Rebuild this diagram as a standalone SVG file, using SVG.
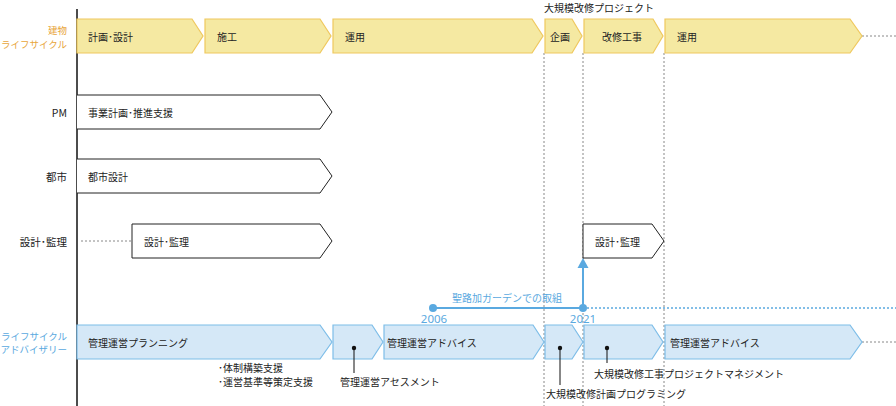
<svg xmlns="http://www.w3.org/2000/svg" width="896" height="406" viewBox="0 0 896 406">
<style>
text{font-family:"Noto Sans CJK JP","Noto Sans",sans-serif;font-size:10px;fill:#222;dominant-baseline:central}
.y{fill:#f5e9a2;stroke:#efc85e;stroke-width:1.2}
.w{fill:#fff;stroke:#222;stroke-width:1}
.b{fill:#d5e8f7;stroke:#7dbde8;stroke-width:1.2}
.dash{stroke:#888;stroke-width:1;stroke-dasharray:2,2;fill:none}
.lblr{text-anchor:end;font-size:9.5px}
.lbl2{text-anchor:end;font-size:10.5px}
.or{fill:#e8a53a}
.bl{fill:#5aa9e0}
.num{font-family:"Noto Sans",sans-serif;font-size:11.5px;fill:#5aa9e0;text-anchor:middle}
</style>
<g id="connectors">
<line class="dash" x1="544" y1="53" x2="544" y2="406"/>
<line class="dash" x1="583" y1="53" x2="583" y2="406"/>
<line class="dash" x1="664" y1="53" x2="664" y2="406"/>
<line class="dash" x1="862" y1="36" x2="896" y2="36"/>
<line class="dash" x1="862" y1="342" x2="896" y2="342"/>
<line class="dash" x1="81" y1="241" x2="132" y2="241"/>
<line x1="433" y1="308" x2="583" y2="308" stroke="#5aa9e0" stroke-width="2"/>
<line x1="583" y1="308" x2="896" y2="308" stroke="#5aa9e0" stroke-width="1.5" stroke-dasharray="2,2"/>
<line x1="583" y1="308" x2="583" y2="266" stroke="#5aa9e0" stroke-width="2"/>
<polygon points="577.5,268 588.5,268 583,258" fill="#5aa9e0"/>
<circle cx="433" cy="308" r="4" fill="#5aa9e0"/>
<circle cx="583" cy="308" r="4" fill="#5aa9e0"/>
</g>
<line x1="77" y1="9" x2="77" y2="406" stroke="#111" stroke-width="1.5"/>
<g id="axis-labels">
<text class="lblr or" x="67" y="30">建物</text>
<text class="lblr or" x="67" y="43.5">ライフサイクル</text>
<text class="lbl2" x="67" y="112">PM</text>
<text class="lbl2" x="67" y="176">都市</text>
<text class="lbl2" x="67" y="241">設計･監理</text>
<text class="lblr bl" x="67" y="335.5">ライフサイクル</text>
<text class="lblr bl" x="67" y="349">アドバイザリー</text>
</g>
<text x="544" y="7">大規模改修プロジェクト</text>
<g id="y1"><path class="y" d="M77,19 H192 L203,36 L192,53 H77 Z"/><text x="88" y="36">計画･設計</text></g>
<g id="y2"><path class="y" d="M205,19 H320 L331,36 L320,53 H205 Z"/><text x="217" y="36">施工</text></g>
<g id="y3"><path class="y" d="M333,19 H532 L543,36 L532,53 H333 Z"/><text x="345" y="36">運用</text></g>
<g id="y4"><path class="y" d="M545,19 H572 L582,36 L572,53 H545 Z"/><text x="550" y="36">企画</text></g>
<g id="y5"><path class="y" d="M584,19 H653 L663,36 L653,53 H584 Z"/><text x="602" y="36">改修工事</text></g>
<g id="y6"><path class="y" d="M665,19 H850 L862,36 L850,53 H665 Z"/><text x="677" y="36">運用</text></g>
<g id="pm"><path class="w" d="M77,95 H320 L332,112 L320,129 H77"/><text x="88" y="112">事業計画･推進支援</text></g>
<g id="toshi"><path class="w" d="M77,159 H320 L332,176 L320,193 H77"/><text x="88" y="176">都市設計</text></g>
<g id="sekkei1"><path class="w" d="M132,224 H320 L332,241 L320,258 H132 Z"/><text x="144" y="241">設計･監理</text></g>
<g id="sekkei2"><path class="w" d="M583,224 H652 L664,241 L652,258 H583 Z"/><text x="595" y="241">設計･監理</text></g>
<g id="timeline-labels">
<text class="bl" x="452" y="297">聖路加ガーデンでの取組</text>
<text class="num" x="434" y="318">2006</text>
<text class="num" x="583" y="318">2021</text>
</g>
<g id="b1"><path class="b" d="M77,325 H320 L332,342 L320,359 H77 Z"/><text x="88" y="342">管理運営プランニング</text></g>
<g id="b2"><path class="b" d="M333,325 H372 L383,342 L372,359 H333 Z"/></g>
<g id="b3"><path class="b" d="M384,325 H533 L544,342 L533,359 H384 Z"/><text x="387" y="342">管理運営アドバイス</text></g>
<g id="b4"><path class="b" d="M545,325 H572 L583,342 L572,359 H545 Z"/></g>
<g id="b5"><path class="b" d="M584,325 H652 L663,342 L652,359 H584 Z"/></g>
<g id="b6"><path class="b" d="M665,325 H850 L862,342 L850,359 H665 Z"/><text x="670" y="342">管理運営アドバイス</text></g>
<g id="notes">
<circle cx="354" cy="348" r="2.2" fill="#111"/><line x1="354" y1="348" x2="354" y2="373" stroke="#111" stroke-width="1"/>
<text x="340" y="381">管理運営アセスメント</text>
<circle cx="560" cy="348" r="2.2" fill="#111"/><line x1="560" y1="348" x2="560" y2="385" stroke="#111" stroke-width="1"/>
<text x="546" y="393">大規模改修計画プログラミング</text>
<circle cx="607" cy="348" r="2.2" fill="#111"/><line x1="607" y1="348" x2="607" y2="363" stroke="#111" stroke-width="1"/>
<text x="594" y="373">大規模改修工事プロジェクトマネジメント</text>
<text x="218" y="367.5">･体制構築支援</text>
<text x="218" y="381">･運営基準等策定支援</text>
</g>
</svg>
